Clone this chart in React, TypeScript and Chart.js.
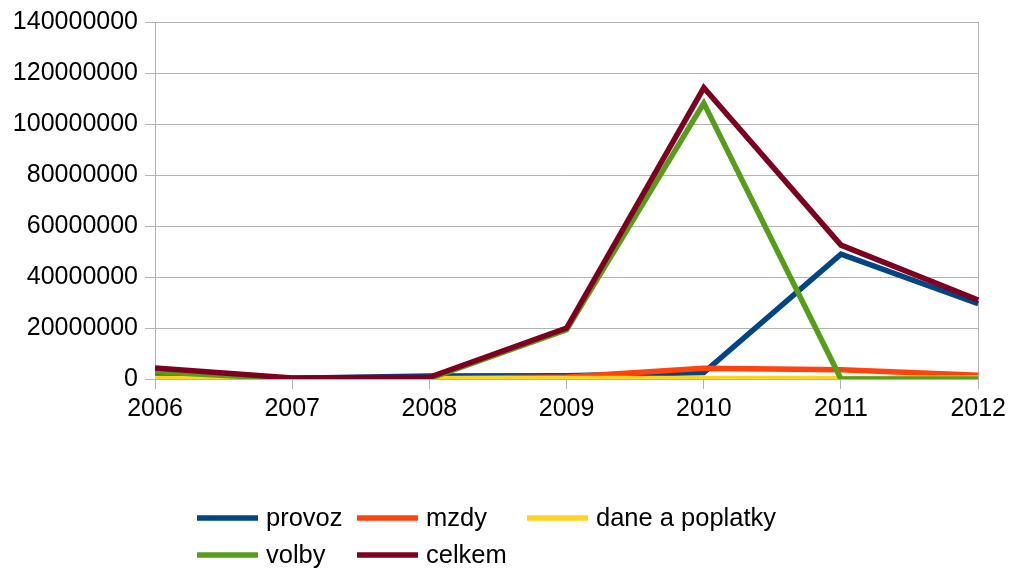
import React, { useEffect, useRef } from "react";
import { Chart, registerables } from "chart.js";

Chart.register(...registerables);

const years = ["2006", "2007", "2008", "2009", "2010", "2011", "2012"];
const provoz = [1000000, 300000, 1200000, 1300000, 2500000, 49000000, 29500000];
const mzdy = [300000, 200000, 200000, 800000, 4200000, 3600000, 1500000];
const dane = [200000, 100000, 100000, 200000, 200000, 200000, 400000];
const volby = [2800000, 0, 200000, 19300000, 108200000, 0, 0];
const celkem = [4300000, 400000, 700000, 20000000, 114200000, 52500000, 31000000];

const seriesNames = ["provoz", "mzdy", "dane a poplatky", "volby", "celkem"];
const seriesColors = ["#004586", "#ff420e", "#ffd320", "#579d1c", "#7e0021"];
const seriesData = [provoz, mzdy, dane, volby, celkem];

const GRID = "#b3b3b3";
const FONT = "'Liberation Sans', Arial, sans-serif";

const legendPlugin = {
  id: "gridLegend",
  afterDraw(chart: any) {
    const ctx = chart.ctx;
    const cols = [197, 357, 527];
    const rows = [518, 555];
    ctx.save();
    ctx.font = `25.5px ${FONT}`;
    ctx.textBaseline = "middle";
    ctx.fillStyle = "#000";
    seriesNames.forEach((name, i) => {
      const c = cols[i % 3];
      const r = rows[Math.floor(i / 3)];
      ctx.strokeStyle = seriesColors[i];
      ctx.lineWidth = 5.5;
      ctx.lineCap = "butt";
      ctx.beginPath();
      ctx.moveTo(c, r);
      ctx.lineTo(c + 61, r);
      ctx.stroke();
      ctx.fillText(name, c + 69, r + 1);
    });
    ctx.restore();
  },
};

export default function App() {
  const ref = useRef<HTMLCanvasElement>(null);
  useEffect(() => {
    if (!ref.current) return;
    const chart = new Chart(ref.current, {
      type: "line",
      data: {
        labels: years,
        datasets: seriesData.map((d, i) => ({
          label: seriesNames[i],
          data: d,
          borderColor: seriesColors[i],
          backgroundColor: seriesColors[i],
          borderWidth: 5.5,
          pointRadius: 0,
          tension: 0,
          fill: false,
          order: 4 - i,
        })),
      },
      options: {
        responsive: false,
        animation: false,
        layout: { padding: { left: 0, right: 32, top: 22, bottom: 0 } },
        plugins: { legend: { display: false }, tooltip: { enabled: false } },
        scales: {
          x: {
            offset: false,
            afterFit: (s: any) => {
              s.height = 572 - 379;
            },
            grid: {
              color: (c: any) => (c.index === 6 ? GRID : "rgba(0,0,0,0)"),
              tickColor: GRID,
              tickLength: 10,
              drawOnChartArea: true,
            },
            border: { color: GRID },
            ticks: {
              color: "#000",
              font: { family: FONT, size: 25 },
              padding: 5,
              maxRotation: 0,
            },
          },
          y: {
            min: 0,
            max: 140000000,
            afterFit: (s: any) => {
              s.width = 155;
            },
            grid: { color: GRID, tickColor: GRID, tickLength: 10 },
            border: { color: GRID },
            ticks: {
              stepSize: 20000000,
              color: "#000",
              font: { family: FONT, size: 25 },
              padding: 7,
              callback: (v: any) => String(v),
            },
          },
        },
      },
      plugins: [legendPlugin],
    });
    return () => chart.destroy();
  }, []);
  return (
    <div style={{ position: "absolute", left: 0, top: 0, width: 1011, height: 572, background: "#fff" }}>
      <canvas ref={ref} width={1011} height={572} style={{ display: "block" }} />
    </div>
  );
}
